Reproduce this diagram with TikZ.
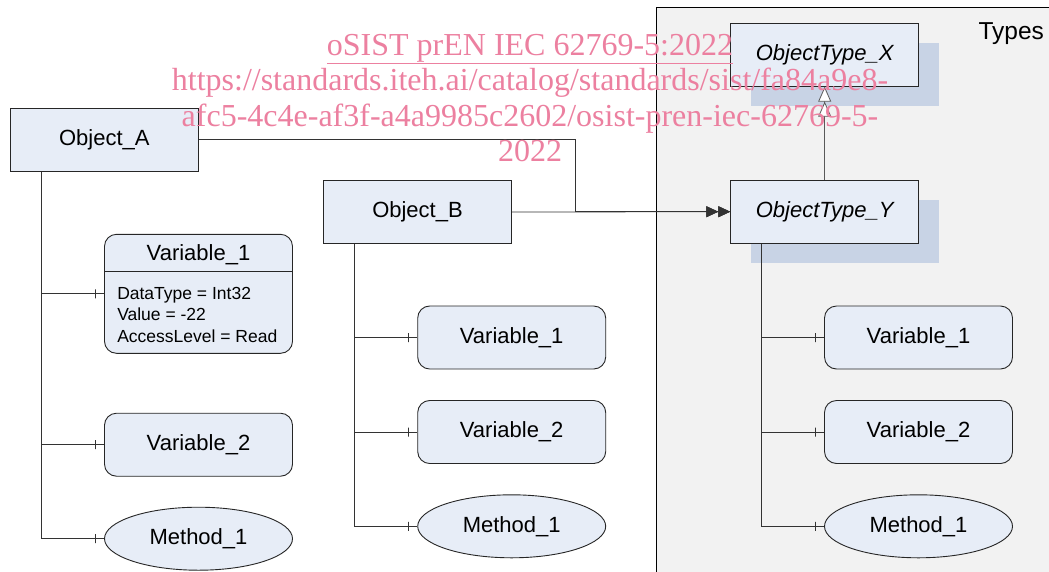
\documentclass[tikz,border=0pt]{standalone}
\usepackage{fontspec}
\setmainfont{Liberation Sans}
\newfontfamily\wmfont{Liberation Serif}
\usetikzlibrary{arrows.meta,shapes.geometric,shadows}
\definecolor{boxfill}{RGB}{231,237,247}
\definecolor{shadefill}{RGB}{200,211,229}
\definecolor{panelfill}{RGB}{242,242,242}
\definecolor{wmpink}{RGB}{236,128,160}
\definecolor{edge}{RGB}{38,38,38}
\begin{document}
\begin{tikzpicture}[x=1pt,y=-1pt,
  lbl/.style={font=\fontsize{22}{26}\selectfont},
  base/.style={draw=edge, line width=0.9pt, fill=boxfill, inner sep=0pt, lbl},
  objbox/.style={base, rectangle, minimum width=188pt, minimum height=63pt},
  typebox/.style={objbox, font=\fontsize{22}{26}\selectfont\itshape,
    general shadow={fill=shadefill, shadow xshift=20pt, shadow yshift=-20pt}},
  varbox/.style={base, rectangle, rounded corners=12pt, minimum width=188pt, minimum height=63pt},
  methnode/.style={base, ellipse, minimum width=188pt, minimum height=63pt},
  link/.style={draw=black!80, line width=0.8pt},
  tickmark/.style={rectangle, draw=black!80, line width=0.8pt, fill=none, inner sep=0pt,
    minimum width=0pt, minimum height=9pt},
  owns/.style={link, -{Triangle[length=12pt,width=11pt]Triangle[length=12pt,width=11pt]}},
  inherits/.style={draw=black!65, line width=0.8pt,
    -{Triangle[length=15pt,width=13pt,fill=white]Triangle[length=15pt,width=13pt,fill=white]}},
]
\useasboundingbox (0,0) rectangle (1049,571);

% type area on the right
\node[draw=black, line width=1pt, fill=panelfill, minimum width=420pt, minimum height=600pt,
  anchor=north west, inner sep=0pt] (panel) at (656,7) {};
\node[font=\fontsize{24.5}{28}\selectfont, anchor=base west, inner sep=0pt] (types) at (978.3,39.3) {Types};

% object types
\node[typebox] (X) at (824.7,54.7) {ObjectType\_X};
\node[typebox] (Y) at (824.7,211.7) {ObjectType\_Y};
\draw[inherits] (Y.north) -- (X.south);

% instances
\node[objbox] (A) at (104.3,139.8) {Object\_A};
\node[objbox] (B) at (417.5,212) {Object\_B};
\coordinate (j) at (575,0);
\draw[owns] (A.east) -| (j |- Y.west) -- (Y.west);
\draw[owns] (B.east) -- (Y.west);

% components of Object_A
\node[varbox, minimum height=119pt] (AV1) at (198.5,293.8) {};
\node[lbl] (AV1t) at ([yshift=-20.7pt]AV1.north) {Variable\_1};
\draw[draw=edge, line width=0.9pt] ([yshift=-38pt]AV1.north west) -- ([yshift=-38pt]AV1.north east);
\node[anchor=west, align=left, inner sep=0pt, font=\fontsize{17.5}{21.7}\selectfont] (AV1a)
  at ([xshift=13pt,yshift=-21pt]AV1.west) {DataType = Int32\\Value = -22\\AccessLevel = Read};
\node[varbox] (AV2) at (198.5,444.7) {Variable\_2};
\node[methnode] (AM1) at (198.5,538.7) {Method\_1};
\foreach \c in {AV1,AV2,AM1}
  \draw[link] ([xshift=31.5pt]A.south west) |- (\c.west) node[tickmark, pos=0.928] {};

% components of Object_B
\node[varbox] (BV1) at (511.7,337.5) {Variable\_1};
\node[varbox] (BV2) at (511.7,432) {Variable\_2};
\node[methnode] (BM1) at (511.7,526.3) {Method\_1};
\foreach \c in {BV1,BV2,BM1}
  \draw[link] ([xshift=31.5pt]B.south west) |- (\c.west) node[tickmark, pos=0.928] {};

% components of ObjectType_Y
\node[varbox] (YV1) at (918.5,337.5) {Variable\_1};
\node[varbox] (YV2) at (918.5,432) {Variable\_2};
\node[methnode] (YM1) at (918.5,526.3) {Method\_1};
\foreach \c in {YV1,YV2,YM1}
  \draw[link] ([xshift=31.5pt]Y.south west) |- (\c.west) node[tickmark, pos=0.928] {};

% catalogue stamp
\node[font=\wmfont\fontsize{32}{35.5}\selectfont, text=wmpink, align=center, anchor=north,
  inner sep=0pt] (stamp) at (530,34)
  {\underline{oSIST prEN IEC 62769-5:2022}\\
   https://standards.iteh.ai/catalog/standards/sist/fa84a9e8-\\
   afc5-4c4e-af3f-a4a9985c2602/osist-pren-iec-62769-5-\\
   2022};
\end{tikzpicture}
\end{document}
